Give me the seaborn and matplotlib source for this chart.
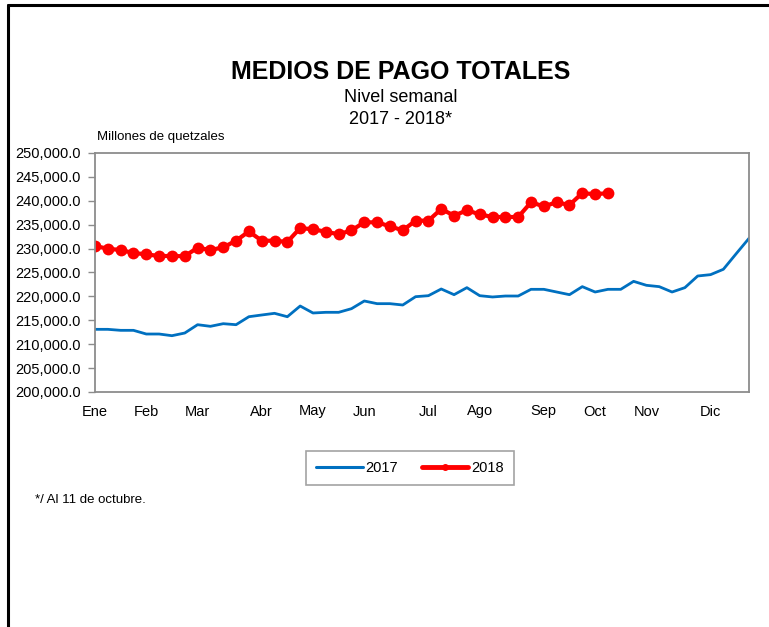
import numpy as np
import pandas as pd
import matplotlib
matplotlib.use("Agg")
import matplotlib.pyplot as plt
from matplotlib.lines import Line2D
from matplotlib.ticker import FuncFormatter, MultipleLocator
import seaborn as sns

# ---- data (millones de quetzales, weekly) ----
values_2017 = [213110, 213110, 212900, 212900, 212130, 212130, 211780, 212340,
               214080, 213740, 214290, 214080, 215750, 216110, 216460, 215750,
               217990, 216530, 216670, 216670, 217430, 219040, 218480, 218480,
               218200, 219940, 220150, 221550, 220360, 221830, 220150, 219880,
               220080, 220080, 221480, 221480, 220920, 220360, 222040, 220920,
               221480, 221480, 223150, 222320, 222040, 220920, 221830, 224270,
               224550, 225670, 228930, 232150]
values_2018 = [230540, 229980, 229700, 229080, 228800, 228450, 228450, 228400,
               230200, 229700, 230270, 231650, 233600, 231650, 231650, 231400,
               234310, 234030, 233540, 232990, 233820, 235500, 235500, 234660,
               233820, 235840, 235840, 238290, 236890, 238010, 237170, 236610,
               236610, 236610, 239680, 238840, 239680, 239120, 241630, 241350,
               241630]
month_labels = ["Ene", "Feb", "Mar", "Abr", "May", "Jun", "Jul", "Ago",
                "Sep", "Oct", "Nov", "Dic"]
month_first_week = [0, 4, 8, 13, 17, 21, 26, 30, 35, 39, 43, 48]
series_names = ["2017", "2018"]

df17 = pd.DataFrame({"week": np.arange(len(values_2017)), "value": values_2017})
df18 = pd.DataFrame({"week": np.arange(len(values_2018)), "value": values_2018})

sns.set_theme(style="white")
plt.rcParams["font.family"] = ["Liberation Sans", "DejaVu Sans"]
plt.rcParams["text.color"] = "black"

W, H = 769, 627
fig = plt.figure(figsize=(W / 100, H / 100), dpi=100)
ax = fig.add_axes([95 / W, 1 - 392 / H, (749 - 95) / W, (392 - 153) / H])

blue = "#0070C0"
red = "#FF0000"
sns.lineplot(data=df17, x="week", y="value", ax=ax, color=blue, linewidth=2.0,
             label=series_names[0])
sns.lineplot(data=df18, x="week", y="value", ax=ax, color=red, linewidth=3.0,
             marker="o", markersize=8.5, markeredgewidth=0, label=series_names[1])

ax.set_xlim(0, len(values_2017) - 1)
ax.set_ylim(200000, 250000)
ax.yaxis.set_major_locator(MultipleLocator(5000))
ax.yaxis.set_major_formatter(FuncFormatter(lambda v, p: f"{v:,.1f}"))
ax.set_xticks(month_first_week)
ax.set_xticklabels(month_labels)
ax.set_xlabel("")
ax.set_ylabel("")
for s in ax.spines.values():
    s.set_color("#8c8c8c")
    s.set_linewidth(1.3)
ax.tick_params(axis="y", which="major", length=5, width=1, color="#8c8c8c",
               direction="out", left=True, labelsize=10.5, pad=5, labelcolor="black")
ax.tick_params(axis="x", which="major", length=0, labelsize=10.5, pad=9,
               labelcolor="black")
ax.grid(False)

ax.legend_.remove()
handles = [Line2D([], [], color=blue, linewidth=2.2),
           Line2D([], [], color=red, linewidth=3.5, marker="o", markersize=4)]
leg = fig.legend(handles, series_names, loc="center",
                 bbox_to_anchor=(410 / W, 1 - 468 / H), ncol=2, frameon=True,
                 fancybox=False, edgecolor="#8c8c8c", fontsize=10.5,
                 handlelength=3.2, handletextpad=0.2, columnspacing=1.6,
                 borderpad=0.7)
leg.get_frame().set_linewidth(1.2)
for t in leg.get_texts():
    t.set_color("black")

fig.text(401 / W, 1 - 72 / H, "MEDIOS DE PAGO TOTALES", ha="center", va="center",
         fontsize=18, fontweight="bold", color="black")
fig.text(401 / W, 1 - 97 / H, "Nivel semanal", ha="center", va="center",
         fontsize=13, color="black")
fig.text(401 / W, 1 - 120 / H, "2017 - 2018*", ha="center", va="center",
         fontsize=13, color="black")
fig.text(97 / W, 1 - 137 / H, "Millones de quetzales", ha="left", va="center",
         fontsize=9.5, color="black")
fig.text(35 / W, 1 - 500 / H, "*/ Al 11 de octubre.", ha="left", va="center",
         fontsize=9.5, color="black")

# outer frame (left and top)
fig.add_artist(Line2D([7.5 / W, 7.5 / W], [0, 1 - 5 / H], color="black",
                      linewidth=2.2, transform=fig.transFigure))
fig.add_artist(Line2D([7.5 / W, 1], [1 - 5 / H, 1 - 5 / H], color="black",
                      linewidth=2.2, transform=fig.transFigure))

fig.savefig("out.png", dpi=100, facecolor="white")
